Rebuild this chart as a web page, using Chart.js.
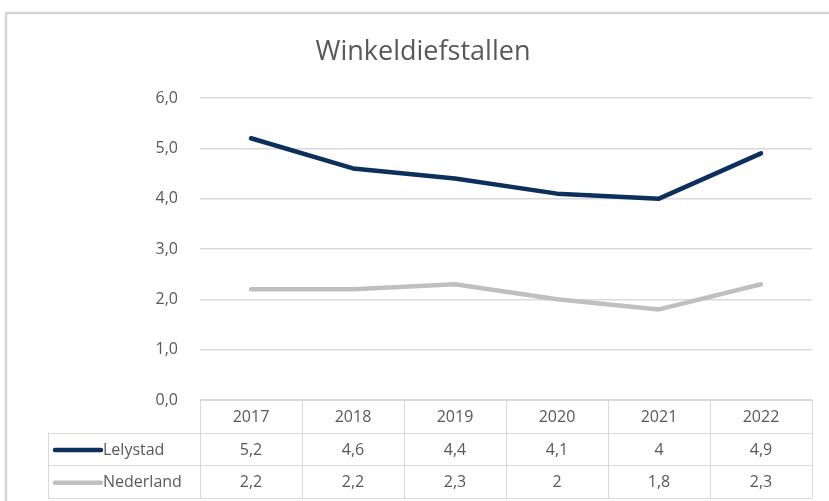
<!DOCTYPE html>
<html lang="nl">
<head>
    <meta charset="UTF-8">
    <title>Winkeldiefstallen</title>
    <script src="https://cdn.jsdelivr.net/npm/chart.js"></script>
    <style>
        body {
            margin: 0;
            background: white;
        }

        .chart-box {
            width: 829px;
            height: 501px;
            position: relative;
        }
    </style>
</head>
<body>
    <div class="chart-box">
        <canvas id="lineChart"></canvas>
    </div>

    <script>
        const jaren = ['2017', '2018', '2019', '2020', '2021', '2022'];
        const lelystad = [5.2, 4.6, 4.4, 4.1, 4, 4.9];
        const nederland = [2.2, 2.2, 2.3, 2, 1.8, 2.3];
        const reeksNamen = ['Lelystad', 'Nederland'];
        const yTicks = [0, 1, 2, 3, 4, 5, 6];

        const tekstKleur = '#595959';
        const lijnKleur = '#d9d9d9';
        const font = "'Open Sans', sans-serif";

        function komma(v, dec) {
            return dec === undefined ? String(v).replace('.', ',') : v.toFixed(dec).replace('.', ',');
        }

        // frame, title and the data table under the plot
        const tabelPlugin = {
            id: 'tabel',
            afterDraw(chart) {
                const ctx = chart.ctx;
                const x = chart.scales.x;
                const area = chart.chartArea;
                const n = jaren.length;
                const stap = x.getPixelForValue(1) - x.getPixelForValue(0);
                const links = x.getPixelForValue(0) - stap / 2;
                const rechts = x.getPixelForValue(n - 1) + stap / 2;
                const rijH = 32.7;
                const top = area.bottom;
                const legLinks = 48;

                ctx.save();

                // outer frame
                ctx.strokeStyle = '#d4d4d4';
                ctx.lineWidth = 2.5;
                ctx.beginPath();
                ctx.moveTo(6, 501);
                ctx.lineTo(6, 13);
                ctx.lineTo(829, 13);
                ctx.stroke();

                // title
                ctx.fillStyle = tekstKleur;
                ctx.font = "27px " + font;
                ctx.textAlign = 'center';
                ctx.textBaseline = 'middle';
                ctx.fillText('Winkeldiefstallen', 423, 52);

                // table lines
                ctx.strokeStyle = lijnKleur;
                ctx.lineWidth = 1;
                ctx.beginPath();
                ctx.moveTo(links, top + 0.5);
                ctx.lineTo(rechts, top + 0.5);
                for (let r = 1; r <= 3; r++) {
                    const y = Math.round(top + r * rijH) + 0.5;
                    ctx.moveTo(legLinks, y);
                    ctx.lineTo(rechts, y);
                }
                for (let i = 0; i <= n; i++) {
                    const xx = Math.round(links + i * stap) + 0.5;
                    ctx.moveTo(xx, top);
                    ctx.lineTo(xx, top + 3 * rijH);
                }
                ctx.moveTo(legLinks + 0.5, top + rijH);
                ctx.lineTo(legLinks + 0.5, top + 3 * rijH);
                ctx.stroke();

                // table text
                ctx.font = "16px " + font;
                ctx.fillStyle = tekstKleur;
                ctx.textAlign = 'center';
                jaren.forEach((j, i) => {
                    ctx.fillText(j, x.getPixelForValue(i), top + rijH / 2 + 1);
                });
                chart.data.datasets.forEach((ds, r) => {
                    const yy = top + (r + 1.5) * rijH + 1;
                    ds.data.forEach((v, i) => {
                        ctx.textAlign = 'center';
                        ctx.fillText(komma(v), x.getPixelForValue(i), yy);
                    });
                    // legend key
                    ctx.strokeStyle = ds.borderColor;
                    ctx.lineWidth = 4.5;
                    ctx.lineCap = 'round';
                    ctx.beginPath();
                    ctx.moveTo(55, yy);
                    ctx.lineTo(101, yy);
                    ctx.stroke();
                    ctx.textAlign = 'left';
                    ctx.fillText(ds.label, 103, yy);
                });

                ctx.restore();
            }
        };

        new Chart(document.getElementById('lineChart'), {
            type: 'line',
            data: {
                labels: jaren,
                datasets: [
                    {
                        label: reeksNamen[0],
                        data: lelystad,
                        borderColor: '#0d2f5c',
                        borderWidth: 4.5,
                        borderCapStyle: 'round',
                        borderJoinStyle: 'round',
                        pointRadius: 0,
                        tension: 0
                    },
                    {
                        label: reeksNamen[1],
                        data: nederland,
                        borderColor: '#bfbfbf',
                        borderWidth: 4.5,
                        borderCapStyle: 'round',
                        borderJoinStyle: 'round',
                        pointRadius: 0,
                        tension: 0
                    }
                ]
            },
            options: {
                responsive: true,
                maintainAspectRatio: false,
                animation: false,
                layout: {
                    padding: { top: 98, right: 17, bottom: 101, left: 0 }
                },
                plugins: {
                    legend: { display: false },
                    title: { display: false },
                    tooltip: { enabled: false }
                },
                scales: {
                    x: {
                        display: false,
                        offset: true
                    },
                    y: {
                        min: yTicks[0],
                        max: yTicks[yTicks.length - 1],
                        afterFit(scale) {
                            scale.width = 200;
                        },
                        border: { display: false },
                        grid: {
                            color: lijnKleur,
                            lineWidth: 1.5,
                            drawTicks: false
                        },
                        ticks: {
                            stepSize: 1,
                            padding: 22,
                            color: tekstKleur,
                            font: { family: "'Open Sans', sans-serif", size: 16 },
                            callback: v => komma(v, 1)
                        }
                    }
                }
            },
            plugins: [tabelPlugin]
        });
    </script>
</body>
</html>
